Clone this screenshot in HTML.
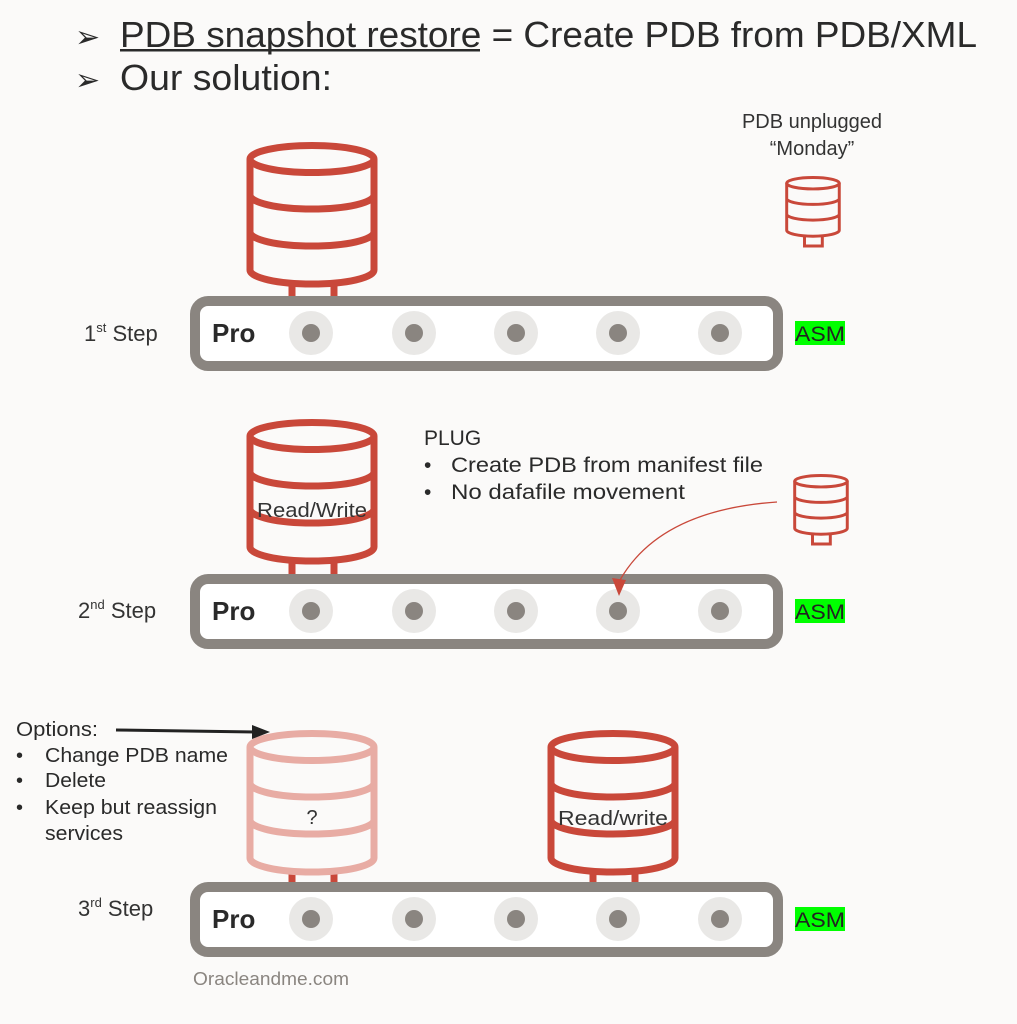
<!DOCTYPE html>
<html><head><meta charset="utf-8"><style>
html,body{margin:0;padding:0;background:#fbfaf9;}
svg{display:block;font-family:"Liberation Sans","DejaVu Sans",sans-serif;}
</style></head><body>
<svg width="1017" height="1024" viewBox="0 0 1017 1024" xmlns="http://www.w3.org/2000/svg">
<defs>
<g id="cyl" fill="none" stroke-width="7">
  <ellipse cx="66" cy="17" rx="62" ry="13.5"/>
  <path d="M4,17 V128 M128,17 V128 M4,53 A62 14 0 0 0 128,53 M4,90 A62 14 0 0 0 128,90 M4,128 A62 14 0 0 0 128,128"/>
</g>
<g id="legs" fill="none" stroke="#c9483a" stroke-width="7"><path d="M46,139 V165 M88,139 V165"/></g>
<g id="bar">
  <rect x="5" y="5" width="583" height="65" rx="13" transform="translate(190,0)" fill="#fff" stroke="#8a8580" stroke-width="10"/>
  <text x="212" y="46" font-size="26" font-weight="bold" fill="#2a2a2a">Pro</text>
  <g fill="#e9e8e6"><circle cx="311" cy="37" r="22"/><circle cx="414" cy="37" r="22"/><circle cx="516" cy="37" r="22"/><circle cx="618" cy="37" r="22"/><circle cx="720" cy="37" r="22"/></g>
  <g fill="#8a8580"><circle cx="311" cy="37" r="9"/><circle cx="414" cy="37" r="9"/><circle cx="516" cy="37" r="9"/><circle cx="618" cy="37" r="9"/><circle cx="720" cy="37" r="9"/></g>
  <rect x="795" y="25" width="50" height="24" fill="#00ff00"/>
  <text x="795" y="45" font-size="21" fill="#222" textLength="50" lengthAdjust="spacingAndGlyphs">ASM</text>
</g>
</defs>

<g fill="#2a2a2a">
<text x="75" y="47" font-size="30">➢</text>
<text x="120" y="47" font-size="36" textLength="857" lengthAdjust="spacingAndGlyphs">PDB snapshot restore = Create PDB from PDB/XML</text>
<rect x="120" y="49" width="360" height="2.5"/>
<text x="75" y="90" font-size="30">➢</text>
<text x="120" y="90" font-size="36" textLength="212" lengthAdjust="spacingAndGlyphs">Our solution:</text>
</g>

<g transform="translate(246,142)"><use href="#legs"/><use href="#cyl" stroke="#c9483a"/></g>
<text x="812" y="128" font-size="20" fill="#333" text-anchor="middle">PDB unplugged</text>
<text x="812" y="155" font-size="20" fill="#333" text-anchor="middle">“Monday”</text>
<g transform="translate(785,176) scale(0.424)"><use href="#cyl" stroke="#c9483a"/><path d="M46,140 V165 H88 V140" fill="none" stroke="#c9483a" stroke-width="7"/></g>
<g transform="translate(0,296)"><use href="#bar"/></g>
<text x="84" y="341" font-size="22" fill="#333">1<tspan font-size="13" dy="-9">st</tspan><tspan dy="9"> Step</tspan></text>

<g transform="translate(246,419)"><use href="#legs"/><use href="#cyl" stroke="#c9483a"/>
<text x="66" y="98" font-size="20" fill="#333" text-anchor="middle" textLength="110" lengthAdjust="spacingAndGlyphs">Read/Write</text></g>
<g fill="#2a2a2a" font-size="21">
<text x="424" y="445">PLUG</text>
<text x="424" y="472">•</text><text x="451" y="472" textLength="312" lengthAdjust="spacingAndGlyphs">Create PDB from manifest file</text>
<text x="424" y="499">•</text><text x="451" y="499" textLength="234" lengthAdjust="spacingAndGlyphs">No dafafile movement</text>
</g>
<g transform="translate(793,474) scale(0.424)"><use href="#cyl" stroke="#c9483a"/><path d="M46,140 V165 H88 V140" fill="none" stroke="#c9483a" stroke-width="7"/></g>
<g transform="translate(0,574)"><use href="#bar"/></g>
<path d="M777,502 Q660,510 620,580" fill="none" stroke="#c9483a" stroke-width="1.3"/>
<path d="M612,578 L619,596 L626,580 Z" fill="#c9483a"/>
<text x="78" y="618" font-size="22" fill="#333">2<tspan font-size="13" dy="-9">nd</tspan><tspan dy="9"> Step</tspan></text>

<g transform="translate(246,730)"><use href="#legs"/><use href="#cyl" stroke="#e8aca4"/>
<text x="66" y="94" font-size="20" fill="#333" text-anchor="middle">?</text></g>
<g transform="translate(547,730)"><use href="#legs"/><use href="#cyl" stroke="#c9483a"/>
<text x="66" y="95" font-size="20" fill="#333" text-anchor="middle" textLength="110" lengthAdjust="spacingAndGlyphs">Read/write</text></g>
<g transform="translate(0,882)"><use href="#bar"/></g>
<text x="78" y="916" font-size="22" fill="#333">3<tspan font-size="13" dy="-9">rd</tspan><tspan dy="9"> Step</tspan></text>
<g fill="#2a2a2a" font-size="20">
<text x="16" y="736" textLength="82" lengthAdjust="spacingAndGlyphs">Options:</text>
<text x="16" y="762">•</text><text x="45" y="762" textLength="183" lengthAdjust="spacingAndGlyphs">Change PDB name</text>
<text x="16" y="787">•</text><text x="45" y="787" textLength="61" lengthAdjust="spacingAndGlyphs">Delete</text>
<text x="16" y="814">•</text><text x="45" y="814" textLength="172" lengthAdjust="spacingAndGlyphs">Keep but reassign</text>
<text x="45" y="840" textLength="78" lengthAdjust="spacingAndGlyphs">services</text>
</g>
<line x1="116" y1="730" x2="255" y2="732" stroke="#222" stroke-width="3"/>
<path d="M252,725 L270,732 L252,739 Z" fill="#222"/>
<text x="193" y="985" font-size="18" fill="#8a8580" textLength="156" lengthAdjust="spacingAndGlyphs">Oracleandme.com</text>
</svg>
</body></html>
